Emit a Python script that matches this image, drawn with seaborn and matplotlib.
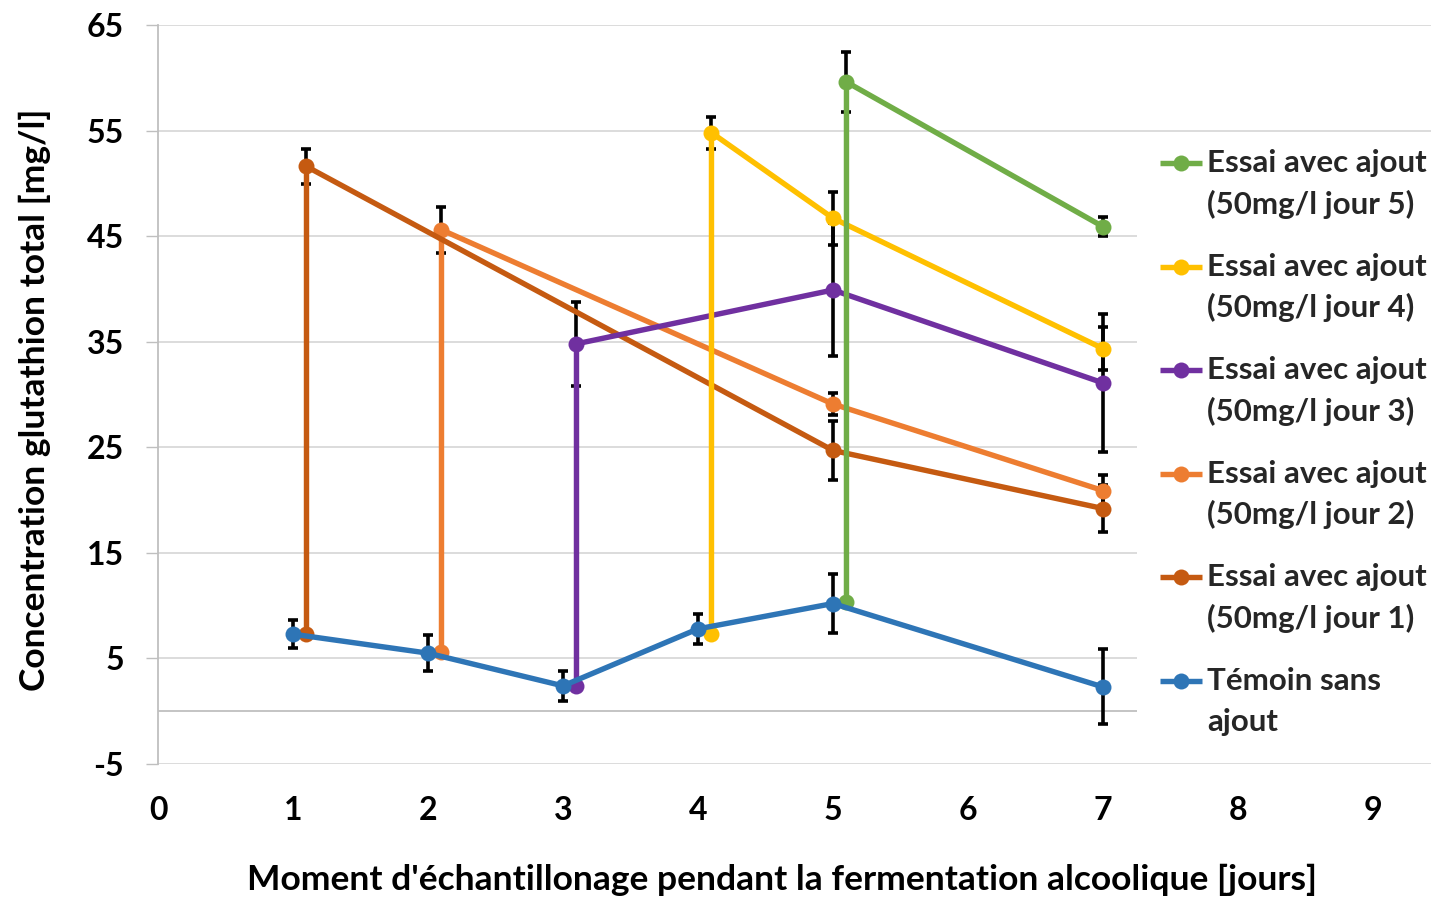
import numpy as np
import pandas as pd
import matplotlib
matplotlib.use("Agg")
import matplotlib.pyplot as plt
import seaborn as sns

# ---------------- data ----------------
x_temoin = [1, 2, 3, 4, 5, 7]
y_temoin = [7.3, 5.5, 2.4, 7.8, 10.2, 2.3]
e_temoin = [1.3, 1.7, 1.4, 1.45, 2.8, 3.55]

x_j1 = [1.1, 1.1, 5, 7]
y_j1 = [7.3, 51.6, 24.7, 19.2]
e_j1 = [np.nan, 1.7, 2.8, 2.2]

x_j2 = [2.1, 2.1, 5, 7]
y_j2 = [5.6, 45.6, 29.1, 20.9]
e_j2 = [np.nan, 2.2, 1.0, 1.5]

x_j3 = [3.1, 3.1, 5, 7]
y_j3 = [2.35, 34.8, 39.9, 31.1]
e_j3 = [np.nan, 4.0, 6.3, 6.5]

x_j4 = [4.1, 4.1, 5, 7]
y_j4 = [7.3, 54.8, 46.7, 34.35]
e_j4 = [np.nan, 1.5, 2.5, 2.0]

x_j5 = [5.1, 5.1, 7]
y_j5 = [10.3, 59.6, 45.9]
e_j5 = [np.nan, 2.8, 0.9]

series_names = ["jour 5", "jour 4", "jour 3", "jour 2", "jour 1", "temoin"]
series_labels = [
    ("Essai avec ajout", "(50mg/l jour 5)"),
    ("Essai avec ajout", "(50mg/l jour 4)"),
    ("Essai avec ajout", "(50mg/l jour 3)"),
    ("Essai avec ajout", "(50mg/l jour 2)"),
    ("Essai avec ajout", "(50mg/l jour 1)"),
    ("Témoin sans", "ajout"),
]
series_colors = ["#70AD47", "#FFC000", "#7030A0", "#ED7D31", "#C55A11", "#2E75B6"]
draw_order = ["jour 2", "jour 1", "jour 3", "jour 4", "jour 5", "temoin"]

y_ticks = [-5, 5, 15, 25, 35, 45, 55, 65]
x_ticks = [0, 1, 2, 3, 4, 5, 6, 7, 8, 9]

xlabel = "Moment d'échantillonage pendant la fermentation alcoolique [jours]"
ylabel = "Concentration glutathion total [mg/l]"

data = {
    "temoin": (x_temoin, y_temoin, e_temoin),
    "jour 1": (x_j1, y_j1, e_j1),
    "jour 2": (x_j2, y_j2, e_j2),
    "jour 3": (x_j3, y_j3, e_j3),
    "jour 4": (x_j4, y_j4, e_j4),
    "jour 5": (x_j5, y_j5, e_j5),
}

frames = []
for name, (xs, ys, es) in data.items():
    frames.append(pd.DataFrame({"x": xs, "y": ys, "err": es, "serie": name}))
df = pd.concat(frames, ignore_index=True)

palette = dict(zip(series_names, series_colors))

# ---------------- style ----------------
sns.set_style("white")
plt.rcParams["font.family"] = ["Lato", "DejaVu Sans"]
plt.rcParams["font.weight"] = "bold"

W, H = 1431, 899
fig = plt.figure(figsize=(W / 100, H / 100), dpi=100)
ax = fig.add_axes([158 / W, (H - 764) / H, (W - 158) / W, (764 - 25) / H])

FS_TICK = 23
FS_LAB = 25.5
FS_LEG = 22.5
LW = 3.9
MS = 11.5

# error bars (below lines)
for name in draw_order:
    xs, ys, es = data[name]
    ax.errorbar(xs, ys, yerr=es, fmt="none", ecolor="black", elinewidth=2.6,
                capsize=3.6, capthick=2.6, zorder=1.8)

sns.lineplot(data=df, x="x", y="y", hue="serie", hue_order=draw_order,
             palette=palette, estimator=None, sort=False, units="serie",
             marker="o", markersize=MS, markeredgewidth=0, linewidth=LW,
             legend=False, ax=ax, zorder=2)

ax.set_xlim(0, 9.43)
ax.set_ylim(-5, 65)
ax.set_xticks(x_ticks)
ax.set_yticks(y_ticks)
ax.set_xticklabels([str(v) for v in x_ticks])
ax.set_yticklabels([str(v) for v in y_ticks])
ax.grid(axis="y", color="#D9D9D9", linewidth=1.3)
ax.grid(axis="x", visible=False)
ax.set_axisbelow(True)
ax.axhline(0, color="#BFBFBF", linewidth=1.3, zorder=0.5)

for s in ["top", "right", "bottom"]:
    ax.spines[s].set_visible(False)
ax.spines["left"].set_color("#BFBFBF")
ax.spines["left"].set_linewidth(1.3)

ax.tick_params(axis="y", which="major", left=True, length=8.6, width=1.0,
               color="#BFBFBF", pad=16, labelsize=FS_TICK)
ax.tick_params(axis="x", which="major", bottom=False, length=0, pad=23,
               labelsize=FS_TICK)
for t in ax.get_xticklabels() + ax.get_yticklabels():
    t.set_fontweight("bold")
    t.set_color("black")

ax.set_xlabel(xlabel, fontsize=FS_LAB, fontweight="bold", color="black")
ax.set_ylabel(ylabel, fontsize=FS_LAB, fontweight="bold", color="black")
ax.xaxis.set_label_coords((782 - 158) / (W - 158), -(880 - 764) / (764 - 25))
ax.xaxis.label.set_va("center")
ax.yaxis.set_label_coords((35 - 158) / (W - 158), (764 - 400) / (764 - 25))
ax.yaxis.label.set_va("center")

# ---------------- legend panel ----------------
lx0, lx1, ly0, ly1 = 1137, W, 132, 745
lax = fig.add_axes([lx0 / W, (H - ly1) / H, (lx1 - lx0) / W, (ly1 - ly0) / H])
lax.set_xlim(lx0, lx1)
lax.set_ylim(ly1, ly0)
lax.axis("off")
lax.add_patch(plt.Rectangle((lx0, ly0), lx1 - lx0, ly1 - ly0, color="white",
                            zorder=0))
first_y = 163
step = 103.6
for i, (name, (l1, l2)) in enumerate(zip(series_names, series_labels)):
    yy = first_y + i * step
    c = palette[name]
    lax.plot([1160, 1202], [yy, yy], color=c, linewidth=LW, solid_capstyle="butt")
    lax.plot([1181], [yy], marker="o", color=c, markersize=MS, markeredgewidth=0)
    lax.text(1207, yy, l1, fontsize=FS_LEG, fontweight="bold", va="center", ha="left")
    lax.text(1207, yy + 41, l2, fontsize=FS_LEG, fontweight="bold", va="center", ha="left")

fig.savefig("out.png", dpi=100)
